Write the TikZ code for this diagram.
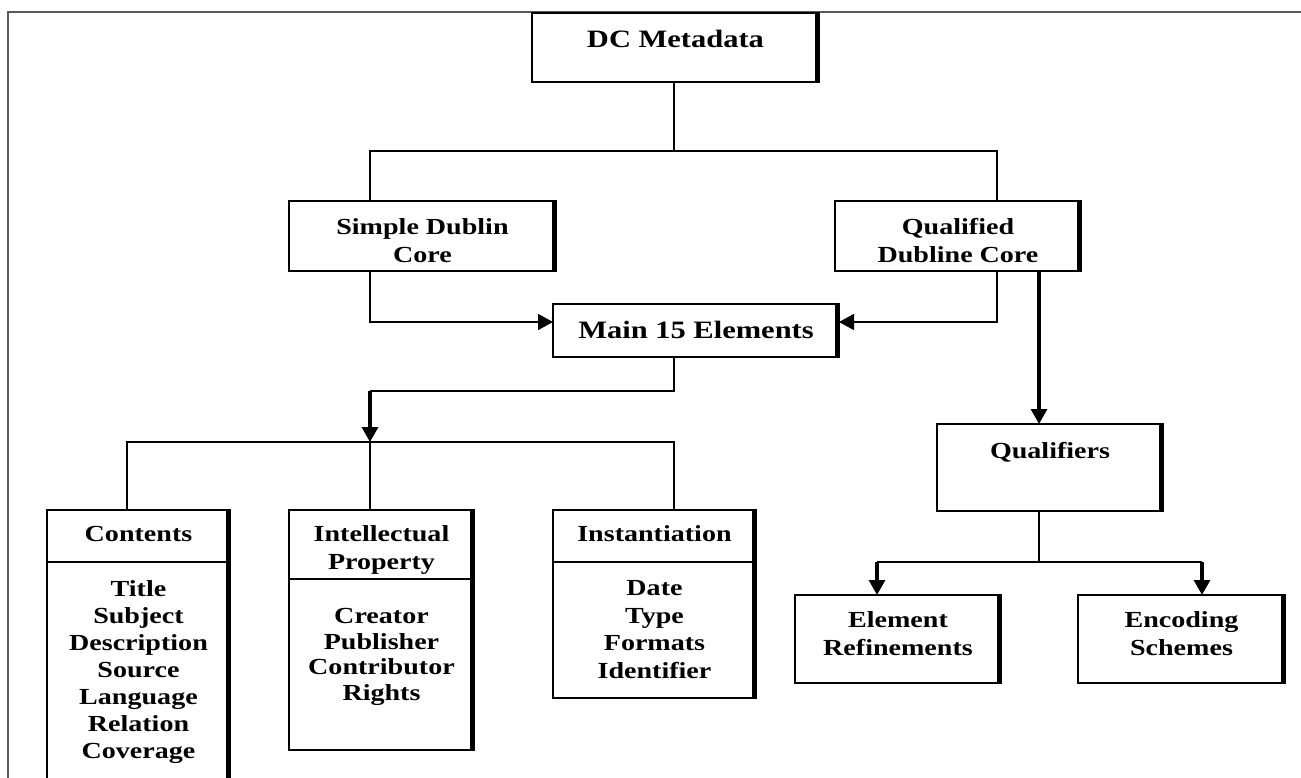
\documentclass[tikz,border=0pt]{standalone}
\usepackage{fontspec}
\setmainfont{Liberation Serif}[FakeStretch=1.22]
\usetikzlibrary{arrows.meta}
\tikzset{
  box/.style={draw, line width=1.7pt, inner sep=0pt, outer sep=0pt, fill=white},
  txt/.style={inner sep=0pt, align=center, font=\bfseries\fontsize{23}{28}\selectfont},
  bigtxt/.style={inner sep=0pt, align=center, font=\bfseries\fontsize{25}{29}\selectfont},
  conn/.style={line width=1.5pt},
  thickconn/.style={line width=3.2pt},
  tip/.style={-{Triangle[length=15pt,width=16pt]}},
  shadowedge/.style={line width=4.5pt},
}
\begin{document}
\begin{tikzpicture}[x=1pt,y=-1pt]
\clip (0,0) rectangle (1301,778);
\fill[white] (0,0) rectangle (1301,778);
\draw[gray!70!black, line width=1.2pt] (8,800) -- (8,12) -- (1310,12);

% columns and rows
\coordinate (xa) at (370,0);
\coordinate (xb) at (674,0);
\coordinate (xc) at (997,0);
\coordinate (xd) at (1039,0);
\coordinate (xe) at (127,0);
\coordinate (xf) at (877,0);
\coordinate (xg) at (1202,0);
\coordinate (r1) at (0,151);
\coordinate (r2) at (0,322);
\coordinate (r3) at (0,391);
\coordinate (r4) at (0,442);
\coordinate (r5) at (0,562);

% boxes
\node[box, minimum width=287pt, minimum height=69pt] (dc) at (675.5,47.5) {};
\node[box, minimum width=267pt, minimum height=70pt] (sdc) at (422.5,236) {};
\node[box, minimum width=246pt, minimum height=70pt] (qdc) at (958,236) {};
\node[box, minimum width=286pt, minimum height=53pt] (m15) at (696,330.5) {};
\node[box, minimum width=183pt, minimum height=290pt] (cont) at (138.5,655) {};
\node[box, minimum width=185pt, minimum height=240pt] (ip) at (381.5,630) {};
\node[box, minimum width=203pt, minimum height=188pt] (inst) at (654.5,604) {};
\node[box, minimum width=226pt, minimum height=87pt] (qual) at (1050,467.5) {};
\node[box, minimum width=206pt, minimum height=88pt] (er) at (898,639) {};
\node[box, minimum width=207pt, minimum height=88pt] (es) at (1181.5,639) {};

% thick right edges
\foreach \n in {dc,sdc,qdc,m15,cont,ip,inst,qual,er,es}
  \draw[shadowedge] ([xshift=-2pt,yshift=0.85pt]\n.north east) -- ([xshift=-2pt,yshift=-0.85pt]\n.south east);

% compartment dividers
\draw[box] (cont.west |- r5) -- (cont.east |- r5);
\draw[box] (ip.west |- 0,579) -- (ip.east |- 0,579);
\draw[box] (inst.west |- r5) -- (inst.east |- r5);

% texts (anchor=base is the baseline of the last line)
\node[bigtxt, anchor=base] (dct) at (675.5,48) {DC Metadata};
\node[txt, anchor=base] (sdct) at (422.5,262) {Simple Dublin\\Core};
\node[txt, anchor=base] (qdct) at (958,262) {Qualified\\Dubline Core};
\node[bigtxt, anchor=base] (m15t) at (696,338) {Main 15 Elements};
\node[txt, anchor=base] (contt) at (138.5,541) {Contents};
\node[txt, anchor=base, font=\bfseries\fontsize{23}{27}\selectfont] (contl) at (138.5,758)
  {Title\\Subject\\Description\\Source\\Language\\Relation\\Coverage};
\node[txt, anchor=base] (ipt) at (381.5,569) {Intellectual\\Property};
\node[txt, anchor=base, font=\bfseries\fontsize{23}{25.5}\selectfont] (ipl) at (381.5,700)
  {Creator\\Publisher\\Contributor\\Rights};
\node[txt, anchor=base] (instt) at (654.5,541) {Instantiation};
\node[txt, anchor=base, font=\bfseries\fontsize{23}{27.4}\selectfont] (instl) at (654.5,678)
  {Date\\Type\\Formats\\Identifier};
\node[txt, anchor=base] (qualt) at (1050,458) {Qualifiers};
\node[txt, anchor=base] (ert) at (898,655) {Element\\Refinements};
\node[txt, anchor=base] (est) at (1181.5,655) {Encoding\\Schemes};

% connectors
\draw[conn] (dc.south -| xb) -- (xb |- r1);
\draw[conn] (sdc.north -| xa) |- (xc |- r1) -- (qdc.north -| xc);
\draw[conn, tip] (sdc.south -| xa) |- (m15.west |- r2);
\draw[conn, tip] (qdc.south -| xc) |- (m15.east |- r2);
\draw[thickconn, tip] (qdc.south -| xd) -- (qual.north -| xd);
\draw[conn] (m15.south -| xb) |- (xa |- r3);
\coordinate (split) at (xa |- r4);
\draw[thickconn, tip] (xa |- r3) -- (split);
\draw[conn] (cont.north -| xe) |- (split) -| (inst.north -| xb);
\draw[conn] (split) -- (ip.north -| xa);
\draw[conn] (qual.south -| xd) -- (xd |- r5);
\draw[conn] (xf |- r5) -- (xg |- r5);
\draw[thickconn, tip] (xf |- r5) -- (er.north -| xf);
\draw[thickconn, tip] (xg |- r5) -- (es.north -| xg);
\end{tikzpicture}
\end{document}
